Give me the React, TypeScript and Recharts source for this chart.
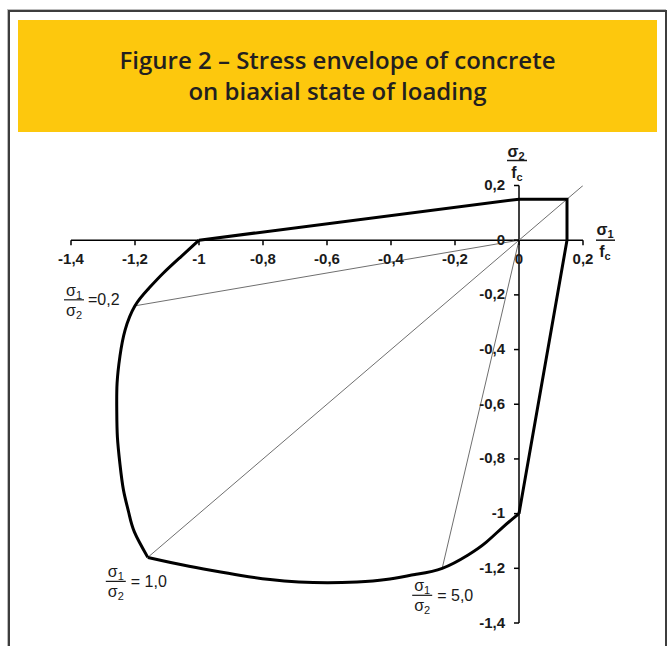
import React from 'react';
import { LineChart, Line, XAxis, YAxis, ReferenceLine, ReferenceDot } from 'recharts';

// Axis ticks (σ1/fc horizontal, σ2/fc vertical)
const xTicks = [-1.4, -1.2, -1, -0.8, -0.6, -0.4, -0.2, 0, 0.2];
const yTicks = [0.2, 0, -0.2, -0.4, -0.6, -0.8, -1, -1.2, -1.4];

// Straight branches of the envelope (compression–tension and tension–tension)
const envelopeStraight = [
  { x: -1, y: 0 },
  { x: 0, y: 0.15 },
  { x: 0.15, y: 0.15 },
  { x: 0.15, y: 0 },
  { x: 0, y: -1 },
];

// Curved lower branch, from uniaxial compression on σ2 to equal biaxial compression
const envelopeLower = [
  { x: 0, y: -1 },
  { x: -0.05, y: -1.049 },
  { x: -0.103, y: -1.105 },
  { x: -0.159, y: -1.151 },
  { x: -0.24, y: -1.2 },
  { x: -0.325, y: -1.223 },
  { x: -0.416, y: -1.241 },
  { x: -0.506, y: -1.25 },
  { x: -0.597, y: -1.253 },
  { x: -0.688, y: -1.25 },
  { x: -0.778, y: -1.241 },
  { x: -0.869, y: -1.226 },
  { x: -0.959, y: -1.208 },
  { x: -1.05, y: -1.188 },
  { x: -1.16, y: -1.16 },
];

// Curved left branch, from uniaxial compression on σ1 to equal biaxial compression
const envelopeLeft = [
  { x: -1, y: 0 },
  { x: -1.056, y: -0.06 },
  { x: -1.112, y: -0.121 },
  { x: -1.159, y: -0.179 },
  { x: -1.2, y: -0.24 },
  { x: -1.231, y: -0.329 },
  { x: -1.247, y: -0.424 },
  { x: -1.256, y: -0.523 },
  { x: -1.257, y: -0.621 },
  { x: -1.255, y: -0.72 },
  { x: -1.247, y: -0.819 },
  { x: -1.236, y: -0.914 },
  { x: -1.22, y: -0.994 },
  { x: -1.202, y: -1.067 },
  { x: -1.16, y: -1.16 },
];

// Constant stress-ratio load paths
const ratioLabels = ['0,2', '1,0', '5,0'];
const ratioPoints = [
  { x: -1.2, y: -0.24 },
  { x: -1.16, y: -1.16 },
  { x: -0.24, y: -1.2 },
];
const rayEnds = [
  { x: 0, y: 0 },
  { x: 0.2, y: 0.2 },
  { x: 0, y: 0 },
];

const fmt = (v: number) => String(v).replace('.', ',');

const W = 669;
const H = 646;
const TICK_FONT = 'Liberation Sans, Arial, sans-serif';

const Sigma = ({ x, y, sub, bold }: { x: number; y: number; sub: string; bold?: boolean }) => (
  <text x={x} y={y} textAnchor="middle" fontFamily={TICK_FONT} fontSize={16} fontWeight={bold ? 700 : 400} fill="#1a1a1a">
    σ
    <tspan fontSize={11} dy={3}>{sub}</tspan>
  </text>
);

const Fc = ({ x, y }: { x: number; y: number }) => (
  <text x={x} y={y} textAnchor="middle" fontFamily={TICK_FONT} fontSize={16} fontWeight={700} fill="#1a1a1a">
    f
    <tspan fontSize={11} dy={3}>c</tspan>
  </text>
);

const xTickShape = (label: string) => (p: any) => (
  <g>
    <line x1={p.cx} y1={p.cy} x2={p.cx} y2={p.cy + 5} stroke="#000" strokeWidth={1.5} />
    <text x={p.cx} y={p.cy + 18} textAnchor="middle" dominantBaseline="central" fontFamily={TICK_FONT} fontSize={15} fontWeight={700} fill="#1a1a1a">
      {label}
    </text>
  </g>
);

const yTickShape = (label: string) => (p: any) => (
  <g>
    <line x1={p.cx - 5} y1={p.cy} x2={p.cx} y2={p.cy} stroke="#000" strokeWidth={1.5} />
    <text x={p.cx - 14} y={p.cy - 1} textAnchor="end" dominantBaseline="central" fontFamily={TICK_FONT} fontSize={15} fontWeight={700} fill="#1a1a1a">
      {label}
    </text>
  </g>
);

const yTitleShape = (p: any) => (
  <g>
    <Sigma x={p.cx - 3} y={p.cy - 29} sub="2" bold />
    <line x1={p.cx - 12} y1={p.cy - 25} x2={p.cx + 8} y2={p.cy - 25} stroke="#1a1a1a" strokeWidth={1.5} />
    <Fc x={p.cx - 2} y={p.cy - 8} />
  </g>
);

const xTitleShape = (p: any) => (
  <g>
    <Sigma x={p.cx + 22} y={p.cy - 5} sub="1" bold />
    <line x1={p.cx + 13} y1={p.cy} x2={p.cx + 32} y2={p.cy} stroke="#1a1a1a" strokeWidth={1.5} />
    <Fc x={p.cx + 22} y={p.cy + 17} />
  </g>
);

// label placement around each ratio point: fraction centre, fraction top, "= value" start
const ratioLayout = [
  { fx: -61, fy: -10, ex: -47, eq: '=' },
  { fx: -32, fy: 20, ex: -17, eq: '= ' },
  { fx: -20, fy: 23, ex: -5, eq: '= ' },
];

const ratioShape = (i: number) => (p: any) => {
  const l = ratioLayout[i];
  const cx = p.cx + l.fx;
  const top = p.cy + l.fy;
  return (
    <g>
      <Sigma x={cx} y={top} sub="1" />
      <line x1={cx - 10} y1={top + 4} x2={cx + 10} y2={top + 4} stroke="#1a1a1a" strokeWidth={1.2} />
      <Sigma x={cx} y={top + 20} sub="2" />
      <text x={p.cx + l.ex} y={top + 4} dominantBaseline="central" fontFamily={TICK_FONT} fontSize={16} fill="#1a1a1a">
        {l.eq + ratioLabels[i]}
      </text>
    </g>
  );
};

export default function App() {
  return (
    <div style={{ position: 'absolute', left: 0, top: 0, width: W, height: H, background: '#fff', overflow: 'hidden' }}>
      <div
        style={{
          position: 'absolute',
          left: 8,
          top: 10,
          width: 655,
          height: 660,
          border: '2px solid #3d3d3d',
          boxShadow: '-1px -1px 0 #bbb',
        }}
      />
      <div
        style={{
          position: 'absolute',
          left: 18,
          top: 20,
          width: 639,
          height: 112,
          background: '#FDC80D',
          display: 'flex',
          alignItems: 'center',
          justifyContent: 'center',
          textAlign: 'center',
          color: '#231f20',
          fontFamily: '"Open Sans", "DejaVu Sans", sans-serif',
          fontWeight: 600,
          fontSize: 24,
          lineHeight: '31px',
        }}
      >
        <div style={{ marginTop: -2 }}>
          Figure 2 – Stress envelope of concrete
          <br />
          on biaxial state of loading
        </div>
      </div>
      <div style={{ position: 'absolute', left: 0, top: 0 }}>
        <LineChart width={W} height={H} margin={{ left: 71, right: 86, top: 185.5, bottom: 23 }}>
          <XAxis type="number" dataKey="x" domain={[-1.4, 0.2]} allowDataOverflow hide />
          <YAxis type="number" dataKey="y" domain={[-1.4, 0.2]} allowDataOverflow hide />
          <ReferenceLine y={0} stroke="#000" strokeWidth={1.5} />
          <ReferenceLine x={0} stroke="#000" strokeWidth={1.5} />
          {ratioPoints.map((pt, i) => (
            <Line
              key={'ray' + i}
              data={[pt, rayEnds[i]]}
              dataKey="y"
              type="linear"
              stroke="#6f6f6f"
              strokeWidth={1}
              dot={false}
              activeDot={false}
              isAnimationActive={false}
            />
          ))}
          <Line data={envelopeStraight} dataKey="y" type="linear" stroke="#000" strokeWidth={3} dot={false} activeDot={false} isAnimationActive={false} />
          <Line data={envelopeLower} dataKey="y" type="natural" stroke="#000" strokeWidth={3} dot={false} activeDot={false} isAnimationActive={false} />
          <Line data={envelopeLeft} dataKey="y" type="natural" stroke="#000" strokeWidth={3} dot={false} activeDot={false} isAnimationActive={false} />
          {xTicks.map((t) => (
            <ReferenceDot key={'xt' + t} x={t} y={0} ifOverflow="visible" shape={xTickShape(fmt(t))} />
          ))}
          {yTicks.map((t) => (
            <ReferenceDot key={'yt' + t} x={0} y={t} ifOverflow="visible" shape={yTickShape(fmt(t))} />
          ))}
          <ReferenceDot x={0} y={0.2} ifOverflow="visible" shape={yTitleShape} />
          <ReferenceDot x={0.2} y={0} ifOverflow="visible" shape={xTitleShape} />
          {ratioPoints.map((pt, i) => (
            <ReferenceDot key={'rl' + i} x={pt.x} y={pt.y} ifOverflow="visible" shape={ratioShape(i)} />
          ))}
        </LineChart>
      </div>
    </div>
  );
}
